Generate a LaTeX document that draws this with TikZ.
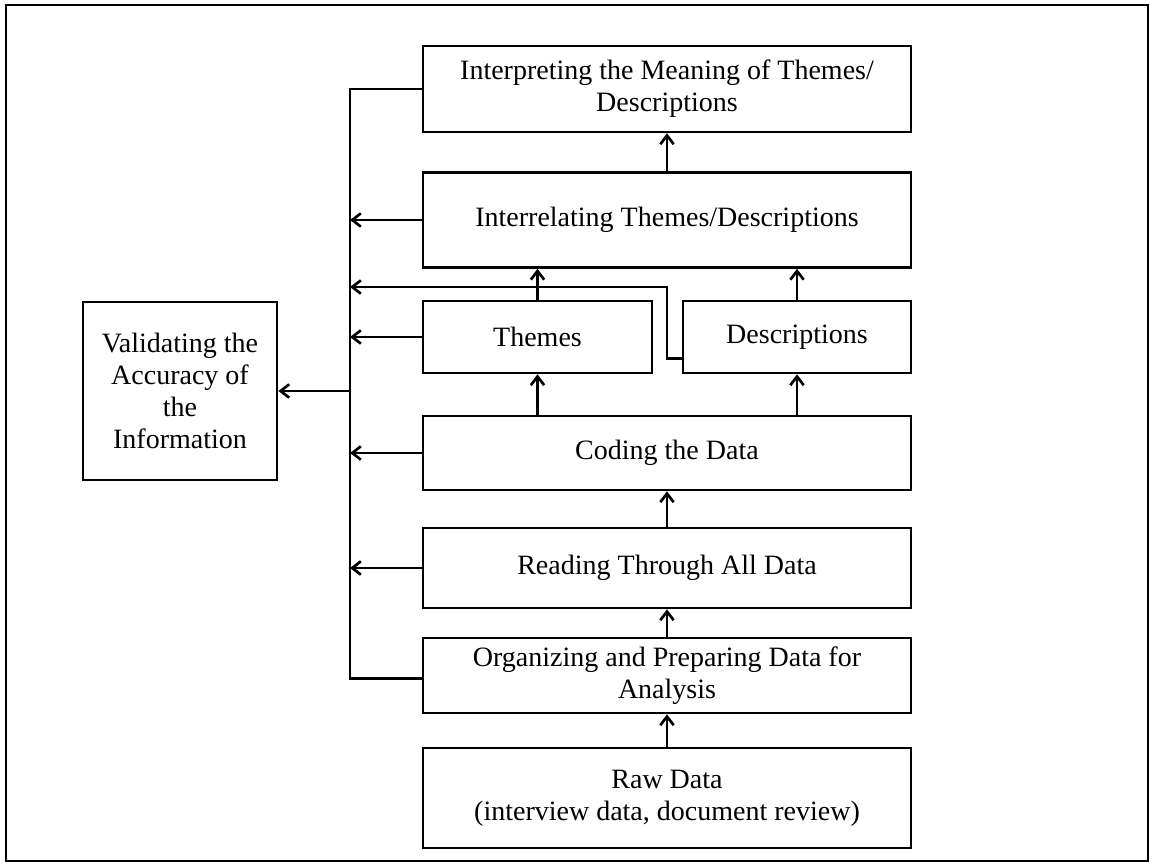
\documentclass[tikz,border=0pt]{standalone}
\usepackage{fontspec}
\setmainfont{Liberation Serif}
\usetikzlibrary{arrows.meta,calc}
\begin{document}
\begin{tikzpicture}[x=0.75pt,y=-0.75pt,
  box/.style={draw,line width=2pt,inner sep=0pt,align=center,
    font=\fontsize{21}{24}\selectfont},
  sz/.style 2 args={minimum width=#1*0.75pt,minimum height=#2*0.75pt},
  link/.style={line width=2pt},
  arr/.style={line width=2pt,-{Straight Barb[length=6.5pt,width=10pt]}}]
  \useasboundingbox (0,0) rectangle (1150,863);
  % frame
  \draw[line width=1.5pt] (6,5) rectangle (1148,861);

  % process boxes
  \node[box,sz={488}{86}] (interp) at (667,89)
    {Interpreting the Meaning of Themes/\\Descriptions};
  \node[box,sz={488}{95}] (interrel) at (667,220)
    {Interrelating Themes/Descriptions};
  \node[box,sz={229}{72}] (themes) at (537.5,337) {Themes};
  \node[box,sz={228}{72}] (desc) at (797,337) {Descriptions};
  \node[box,sz={488}{74}] (coding) at (667,453) {Coding the Data};
  \node[box,sz={488}{80}] (reading) at (667,568) {Reading Through All Data};
  \node[box,sz={488}{75}] (organ) at (667,675.5)
    {Organizing and Preparing Data for\\Analysis};
  \node[box,sz={488}{100}] (raw) at (667,798)
    {Raw Data\\(interview data, document review)};
  \node[box,sz={194}{178}] (valid) at (180,391)
    {Validating the\\Accuracy of\\the\\Information};

  % upward flow
  \draw[arr] (raw.north) -- (organ.south);
  \draw[arr] (organ.north) -- (reading.south);
  \draw[arr] (reading.north) -- (coding.south);
  \draw[arr] (coding.north -| themes.north) -- (themes.south);
  \draw[arr] (coding.north -| desc.north) -- (desc.south);
  \draw[arr] (themes.north) -- (interrel.south -| themes.north);
  \draw[arr] (desc.north) -- (interrel.south -| desc.north);
  \draw[arr] (interrel.north) -- (interp.south);

  % validation bus
  \coordinate (busx) at (350,0);
  \coordinate (busend) at ($(organ.west)+(0,3)$);
  \draw[link] (interp.west) -- (interp.west -| busx) -- (busend -| busx) -- (busend);
  \draw[arr] (interrel.west) -- (interrel.west -| busx);
  \draw[arr] (themes.west) -- (themes.west -| busx);
  \draw[arr] (coding.west) -- (coding.west -| busx);
  \draw[arr] (reading.west) -- (reading.west -| busx);
  \coordinate (dstart) at ($(desc.south west)+(0,-16)$);
  \coordinate (dbend) at (667,287);
  \draw[arr] (dstart) -- (dstart -| dbend) -- (dbend) -- (dbend -| busx);
  \draw[arr] (valid.east -| busx) -- (valid.east);
\end{tikzpicture}
\end{document}
